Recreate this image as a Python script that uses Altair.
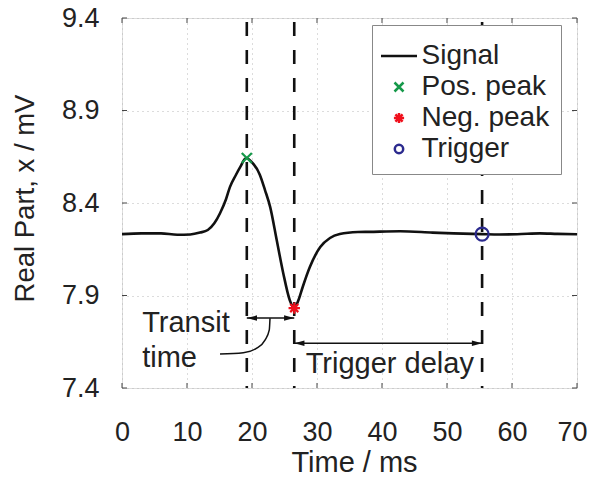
import altair as alt
import pandas as pd

# ---- data ----
time_ms = [0, 3, 6, 8.5, 10.5, 12, 13.2, 14.2, 15.1, 16, 16.6, 17.5, 18.2, 19.1,
           20, 21.2, 22, 22.8, 23.8, 24.8, 25.8, 26.5, 27.2, 27.8, 28.9, 30.5,
           32, 33.5, 36.3, 38, 42.8, 47.8, 51, 55.4, 58, 60.8, 64.3, 67, 70]
signal_mv = [8.232, 8.236, 8.236, 8.228, 8.230, 8.240, 8.254, 8.29, 8.346, 8.42,
             8.486, 8.55, 8.595, 8.643, 8.62, 8.553, 8.47, 8.378, 8.2, 8.022,
             7.876, 7.832, 7.88, 7.946, 8.054, 8.162, 8.211, 8.232, 8.243, 8.244,
             8.247, 8.24, 8.236, 8.232, 8.23, 8.231, 8.236, 8.233, 8.231]

legend_names = ["Signal", "Pos. peak", "Neg. peak", "Trigger"]
legend_colors = ["#111111", "#16994a", "#f0101c", "#2b2a8e"]

peak_names = ["Pos. peak", "Neg. peak", "Trigger"]
peak_time = [19.2, 26.5, 55.4]
peak_value = [8.643, 7.832, 8.232]

marker_times = [19.2, 26.5, 55.4]

x_ticks = [0, 10, 20, 30, 40, 50, 60, 70]
y_ticks = [7.4, 7.9, 8.4, 8.9, 9.4]

transit_span = [19.2, 26.5]
transit_level = 7.778
delay_span = [26.5, 55.4]
delay_level = 7.642

leader_t = [22.77, 22.66, 22.0, 20.72, 18.66, 15.08]
leader_v = [7.777, 7.714, 7.659, 7.615, 7.591, 7.584]

left_text = ["Transit", "time"]
left_text_t = [3.1, 3.1]
left_text_v = [7.703, 7.514]
center_text = ["Trigger delay"]
center_text_t = [41.2]
center_text_v = [7.481]

FONT = "Liberation Sans"
FS = 27      # tick labels
FT = 29      # titles, annotations
FL = 28      # legend labels
W, H = 455, 370

# ---- shapes ----
shape_paths = [
    "M-3,0L3,0",
    "M-0.75,-0.75L0.75,0.75M-0.75,0.75L0.75,-0.75",
    "M0,-0.85L0,0.85M-0.85,0L0.85,0M-0.6,-0.6L0.6,0.6M-0.6,0.6L0.6,-0.6",
    "M0.7,0A0.7,0.7,0,1,1,-0.7,0A0.7,0.7,0,1,1,0.7,0Z",
]
arrow_left = "M0,0L1.7,-0.45L1.7,0.45Z"
arrow_right = "M0,0L-1.7,-0.45L-1.7,0.45Z"

xscale = alt.Scale(domain=[0, 70], nice=False, zero=False)
yscale = alt.Scale(domain=[7.4, 9.4], nice=False, zero=False)

xaxis = alt.Axis(values=x_ticks, title="Time / ms", grid=True, gridDash=[1, 4],
                 gridColor="#b8b8b8", ticks=False, domain=False,
                 labelFont=FONT, labelFontSize=FS, labelColor="#222",
                 labelPadding=52, labelBaseline="alphabetic", labelFlush=False,
                 labelOffset={"condition": {"test": "datum.value == 70", "value": -5},
                              "value": 0},
                 labelOverlap=False, titleFont=FONT, titleFontSize=FT,
                 titleFontWeight="normal", titleColor="#222", titleX=232,
                 titleY=83, titleBaseline="alphabetic", titleAlign="center")
yaxis = alt.Axis(values=y_ticks, format=".1f", title="Real Part, x / mV", grid=True,
                 gridDash=[1, 4], gridColor="#b8b8b8", ticks=False, domain=False,
                 labelFont=FONT, labelFontSize=FS, labelColor="#222",
                 labelPadding=23, labelFlush=False, labelOverlap=False,
                 titleFont=FONT, titleFontSize=FS + 0.5, titleFontWeight="normal",
                 titleColor="#222", titleX=-97, titleY=180, titleAngle=270,
                 titleAlign="center", titleBaseline="middle")

X = alt.X("t:Q", scale=xscale, axis=xaxis)
Y = alt.Y("v:Q", scale=yscale, axis=yaxis)

sig_df = pd.DataFrame({"t": time_ms, "v": signal_mv})
peak_df = pd.DataFrame({"t": peak_time, "v": peak_value, "series": peak_names})
mark_df = pd.DataFrame({"t": marker_times})
xt_df = pd.DataFrame({"t": x_ticks})
yt_df = pd.DataFrame({"v": y_ticks})
transit_df = pd.DataFrame({"t": [transit_span[0]], "t2": [transit_span[1]], "v": [transit_level]})
delay_df = pd.DataFrame({"t": [delay_span[0]], "t2": [delay_span[1]], "v": [delay_level]})
al_df = pd.DataFrame({"t": [transit_span[0], delay_span[0]], "v": [transit_level, delay_level]})
ar_df = pd.DataFrame({"t": [transit_span[1], delay_span[1]], "v": [transit_level, delay_level]})
leader_df = pd.DataFrame({"t": leader_t, "v": leader_v})
lt_df = pd.DataFrame({"t": left_text_t, "v": left_text_v, "label": left_text})
ct_df = pd.DataFrame({"t": center_text_t, "v": center_text_v, "label": center_text})

tick_color = "#444"
ticks_bottom = alt.Chart(xt_df).mark_rule(color=tick_color, strokeWidth=1).encode(
    x=X, y=alt.value(H), y2=alt.value(H - 5))
ticks_top = alt.Chart(xt_df).mark_rule(color=tick_color, strokeWidth=1).encode(
    x=X, y=alt.value(0), y2=alt.value(5))
ticks_left = alt.Chart(yt_df).mark_rule(color=tick_color, strokeWidth=1).encode(
    y=Y, x=alt.value(0), x2=alt.value(5))
ticks_right = alt.Chart(yt_df).mark_rule(color=tick_color, strokeWidth=1).encode(
    y=Y, x=alt.value(W), x2=alt.value(W - 5))

dashed = alt.Chart(mark_df).mark_rule(color="#111", strokeWidth=2.6,
                                       strokeDash=[14, 14], strokeDashOffset=24).encode(
    x=X, y=alt.value(0), y2=alt.value(H))

signal = alt.Chart(sig_df).mark_line(color="#111", strokeWidth=2.6,
                                      interpolate="monotone").encode(x=X, y=Y)

legend = alt.Legend(orient="none", legendX=250, legendY=7, title=" ",
                    titleFontSize=1, titlePadding=5,
                    labelFont=FONT, labelFontSize=FL, labelColor="#222",
                    padding=11, strokeColor="#888", fillColor="white",
                    symbolSize=144, symbolStrokeWidth=2.5, symbolOffset=2,
                    labelOffset=8.5, rowPadding=3, labelLimit=400)

points = alt.Chart(peak_df).mark_point(filled=False, strokeWidth=2.2, opacity=1).encode(
    x=X, y=Y,
    color=alt.Color("series:N", scale=alt.Scale(domain=legend_names, range=legend_colors),
                    legend=legend),
    shape=alt.Shape("series:N", scale=alt.Scale(domain=legend_names, range=shape_paths),
                    legend=legend),
    size=alt.condition("datum.series == 'Trigger'", alt.value(345), alt.value(180)),
)

transit = alt.Chart(transit_df).mark_rule(color="#111", strokeWidth=1.5).encode(
    x=X, x2="t2:Q", y=Y)
delay = alt.Chart(delay_df).mark_rule(color="#111", strokeWidth=1.5).encode(
    x=X, x2="t2:Q", y=Y)
heads_l = alt.Chart(al_df).mark_point(shape=arrow_left, filled=True, color="#111",
                                      size=144, opacity=1).encode(x=X, y=Y)
heads_r = alt.Chart(ar_df).mark_point(shape=arrow_right, filled=True, color="#111",
                                      size=144, opacity=1).encode(x=X, y=Y)
leader = alt.Chart(leader_df).mark_line(color="#111", strokeWidth=1.5,
                                        interpolate="monotone").encode(x=X, y=Y)
txt_l = alt.Chart(lt_df).mark_text(font=FONT, fontSize=FT, color="#222", align="left",
                                   baseline="alphabetic").encode(x=X, y=Y, text="label:N")
txt_c = alt.Chart(ct_df).mark_text(font=FONT, fontSize=FT, color="#222", align="center",
                                   baseline="alphabetic").encode(x=X, y=Y, text="label:N")

chart = alt.layer(
    ticks_bottom, ticks_top, ticks_left, ticks_right,
    dashed, signal, transit, delay, heads_l, heads_r, leader, txt_l, txt_c, points,
).properties(
    width=W, height=H,
    autosize=alt.AutoSizeParams(type="none"),
    padding={"left": 114, "top": 10, "right": 11, "bottom": 89},
).configure_view(stroke="#808080", strokeWidth=1).configure(background="white")

chart.save("out.html", embed_options={"renderer": "svg", "actions": False})
